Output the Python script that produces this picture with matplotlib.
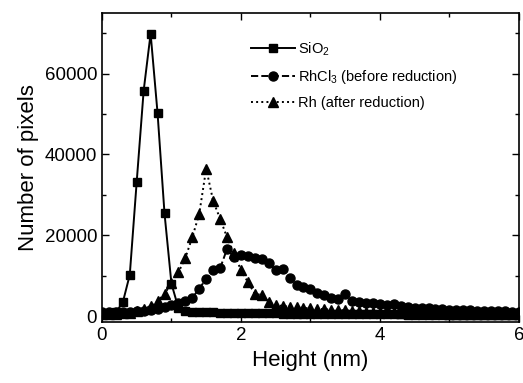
import numpy as np
import matplotlib
matplotlib.use('Agg')
import matplotlib.pyplot as plt
from matplotlib.ticker import MultipleLocator

plt.rcParams['font.family'] = ['Liberation Sans', 'DejaVu Sans']
plt.rcParams['mathtext.default'] = 'regular'

# histogram bins (nm)
height = np.round(np.arange(0, 6.01, 0.1), 1)

sio2 = [500, 600, 900, 3400, 10200, 33300, 55800, 69900, 50200, 25400,
        8000, 2000, 1300, 1100, 1000, 950, 900, 850, 800, 780,
        750, 720, 700, 680, 660, 640, 620, 600, 580, 560,
        540, 520, 500, 490, 480, 470, 460, 450, 440, 430,
        420, 410, 400, 390, 380, 370, 360, 350, 340, 330,
        320, 310, 300, 290, 280, 270, 260, 250, 240, 230, 220]

rhcl3 = [900, 1000, 1000, 1100, 1100, 1200, 1300, 1500, 1800, 2300,
         2800, 3200, 3700, 4500, 6800, 9200, 11300, 11800, 16600, 14700,
         15200, 14800, 14400, 14000, 13100, 11400, 11700, 9400, 7800, 7200,
         6600, 5800, 5100, 4500, 4200, 5400, 3800, 3500, 3300, 3200,
         3000, 2800, 3100, 2500, 2300, 2100, 2000, 1900, 1800, 1700,
         1600, 1500, 1450, 1400, 1350, 1300, 1250, 1200, 1150, 1100, 1050]

rh = [500, 500, 600, 700, 800, 1300, 1800, 2500, 3700, 5500,
      8100, 10800, 14400, 19500, 25300, 36500, 28500, 24100, 19500, 15500,
      11400, 8400, 5500, 5200, 3500, 2700, 2500, 2300, 2200, 2000,
      1900, 1800, 1700, 1600, 1500, 1400, 1300, 1200, 1100, 1050,
      1000, 950, 900, 850, 800, 760, 720, 690, 660, 630,
      600, 580, 560, 540, 520, 500, 480, 460, 440, 420, 400]

labels = ['SiO$_2$', 'RhCl$_3$ (before reduction)', 'Rh (after reduction)']

fig = plt.figure(figsize=(5.23, 3.83), dpi=100)
ax = fig.add_axes([0.195, 0.159, 0.797, 0.807])

ax.plot(height, sio2, '-', marker='s', color='black', lw=1.4, ms=5.5, label=labels[0])
ax.plot(height, rhcl3, '--', marker='o', color='black', lw=1.4, ms=6.5, label=labels[1])
ax.plot(height, rh, ':', marker='^', color='black', lw=1.4, ms=7, label=labels[2])

ax.set_xlim(0, 6)
ax.set_ylim(-1500, 75000)
ax.xaxis.set_major_locator(MultipleLocator(2))
ax.xaxis.set_minor_locator(MultipleLocator(1))
ax.yaxis.set_major_locator(MultipleLocator(20000))
ax.yaxis.set_minor_locator(MultipleLocator(10000))
ax.tick_params(which='both', direction='in', top=True, right=True, labelsize=13.5, width=1)
ax.tick_params(which='major', length=5)
ax.tick_params(which='minor', length=3)
for s in ax.spines.values():
    s.set_linewidth(1.2)

ax.set_xlabel('Height (nm)', fontsize=16)
ax.set_ylabel('Number of pixels', fontsize=16)

ax.legend(loc='upper left', bbox_to_anchor=(0.34, 0.935), frameon=False, fontsize=10.5,
          borderpad=0, handlelength=3, handletextpad=0.2, labelspacing=0.7)

fig.savefig('out.png', dpi=100)
